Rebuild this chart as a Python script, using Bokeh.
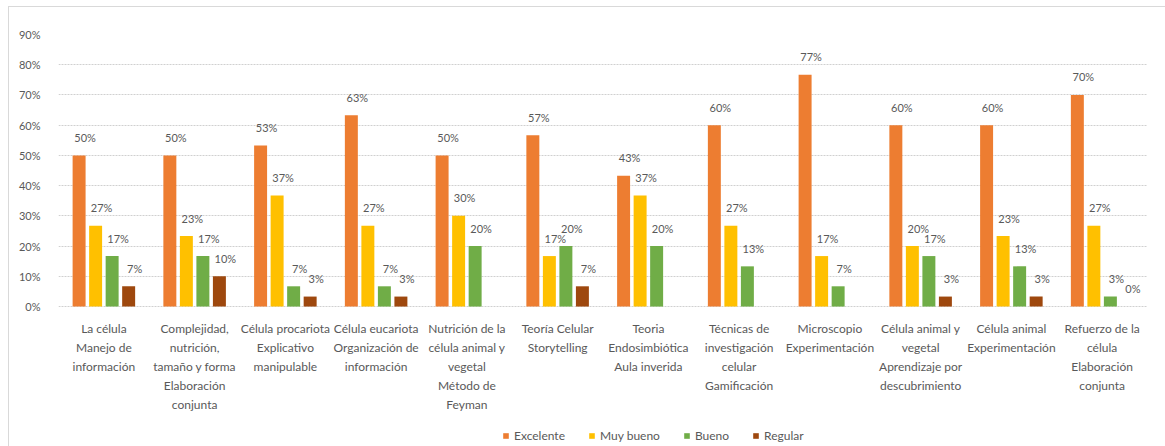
from bokeh.plotting import figure
from bokeh.models import (ColumnDataSource, FactorRange, Range1d, FixedTicker,
                          PrintfTickFormatter, Legend, LegendItem)
from bokeh.transform import dodge
from bokeh.embed import file_html
from bokeh.resources import INLINE
from bokeh.core.properties import value

categories = [
    "La célula\nManejo de\ninformación",
    "Complejidad,\nnutrición,\ntamaño y forma\nElaboración\nconjunta",
    "Célula procariota\nExplicativo\nmanipulable",
    "Célula eucariota\nOrganización de\ninformación",
    "Nutrición de la\ncélula animal y\nvegetal\nMétodo de\nFeyman",
    "Teoría Celular\nStorytelling",
    "Teoria\nEndosimbiótica\nAula inverida",
    "Técnicas de\ninvestigación\ncelular\nGamificación",
    "Microscopio\nExperimentación",
    "Célula animal y\nvegetal\nAprendizaje por\ndescubrimiento",
    "Célula animal\nExperimentación",
    "Refuerzo de la\ncélula\nElaboración\nconjunta",
]
series_names = ["Excelente", "Muy bueno", "Bueno", "Regular"]
excelente = [50, 50, 53.3, 63.3, 50, 56.7, 43.3, 60, 76.7, 60, 60, 70]
muy_bueno = [26.7, 23.3, 36.7, 26.7, 30, 16.7, 36.7, 26.7, 16.7, 20, 23.3, 26.7]
bueno = [16.7, 16.7, 6.7, 6.7, 20, 20, 20, 13.3, 6.7, 16.7, 13.3, 3.3]
regular = [6.7, 10, 3.3, 3.3, None, 6.7, None, None, None, 3.3, 3.3, 0]
series_values = [excelente, muy_bueno, bueno, regular]
colors = ["#ED7D31", "#FFC000", "#70AD47", "#9E480E"]
y_ticks = [0, 10, 20, 30, 40, 50, 60, 70, 80, 90]

FONT = "Lato"
TXT = "#595959"

# frame extends below the zero line so the category labels and legend sit inside it
p = figure(x_range=FactorRange(*categories), y_range=Range1d(-46.3, 90),
           frame_width=1089, frame_height=412,
           output_backend="svg", toolbar_location=None,
           min_border_left=49, min_border_right=18, min_border_top=27,
           min_border_bottom=0)
p.margin = (6, 0, 0, 8)
p.styles = {"border-top": "1px solid #D9D9D9", "border-left": "1px solid #D9D9D9",
            "border-right": "1px solid #D9D9D9"}
p.outline_line_color = None
p.background_fill_color = "white"
p.border_fill_color = "white"

offsets = [-0.273, -0.091, 0.091, 0.273]
items = []
for name, vals, col, off in zip(series_names, series_values, colors, offsets):
    xs = [c for c, v in zip(categories, vals) if v is not None]
    ys = [v for v in vals if v is not None]
    labels = [f"{round(v)}%" for v in ys]
    src = ColumnDataSource(dict(x=xs, y=ys, label=labels))
    r = p.vbar(x=dodge("x", off, range=p.x_range), top="y", width=0.143,
               source=src, fill_color=col, line_color=None)
    p.text(x=dodge("x", off, range=p.x_range), y="y", text="label", source=src,
           text_align="center", text_baseline="middle", x_offset=6, y_offset=-18,
           text_font=value(FONT), text_font_size="11px", text_color=TXT)
    items.append(LegendItem(label=name, renderers=[r]))

# category labels under the zero line
cat_src = ColumnDataSource(dict(x=categories, y=[0] * len(categories), t=categories))
p.text(x="x", y="y", text="t", source=cat_src, text_align="center",
       text_baseline="top", y_offset=14, text_font=value(FONT),
       text_font_size="12px", text_color=TXT, text_line_height=1.28)

p.xgrid.grid_line_color = None
p.ygrid.grid_line_color = "#D0D0D0"
p.ygrid.grid_line_dash = "2 1"
p.ygrid.ticker = FixedTicker(ticks=y_ticks)

p.yaxis.ticker = FixedTicker(ticks=y_ticks)
p.yaxis.formatter = PrintfTickFormatter(format="%d%%")
p.yaxis.axis_line_color = None
p.yaxis.major_tick_line_color = None
p.yaxis.minor_tick_line_color = None
p.yaxis.major_label_standoff = 12
p.yaxis.major_label_text_font = FONT
p.yaxis.major_label_text_font_size = "11px"
p.yaxis.major_label_text_color = TXT

p.xaxis.visible = False

legend = Legend(items=items, orientation="horizontal", location=(444, 3),
                glyph_width=7, glyph_height=7, label_standoff=5, spacing=23,
                label_text_font=FONT, label_text_font_size="12px",
                label_text_color=TXT, border_line_color=None,
                background_fill_alpha=0, padding=0, margin=0)
p.add_layout(legend, "center")

open("out.html", "w").write(file_html(p, INLINE))
